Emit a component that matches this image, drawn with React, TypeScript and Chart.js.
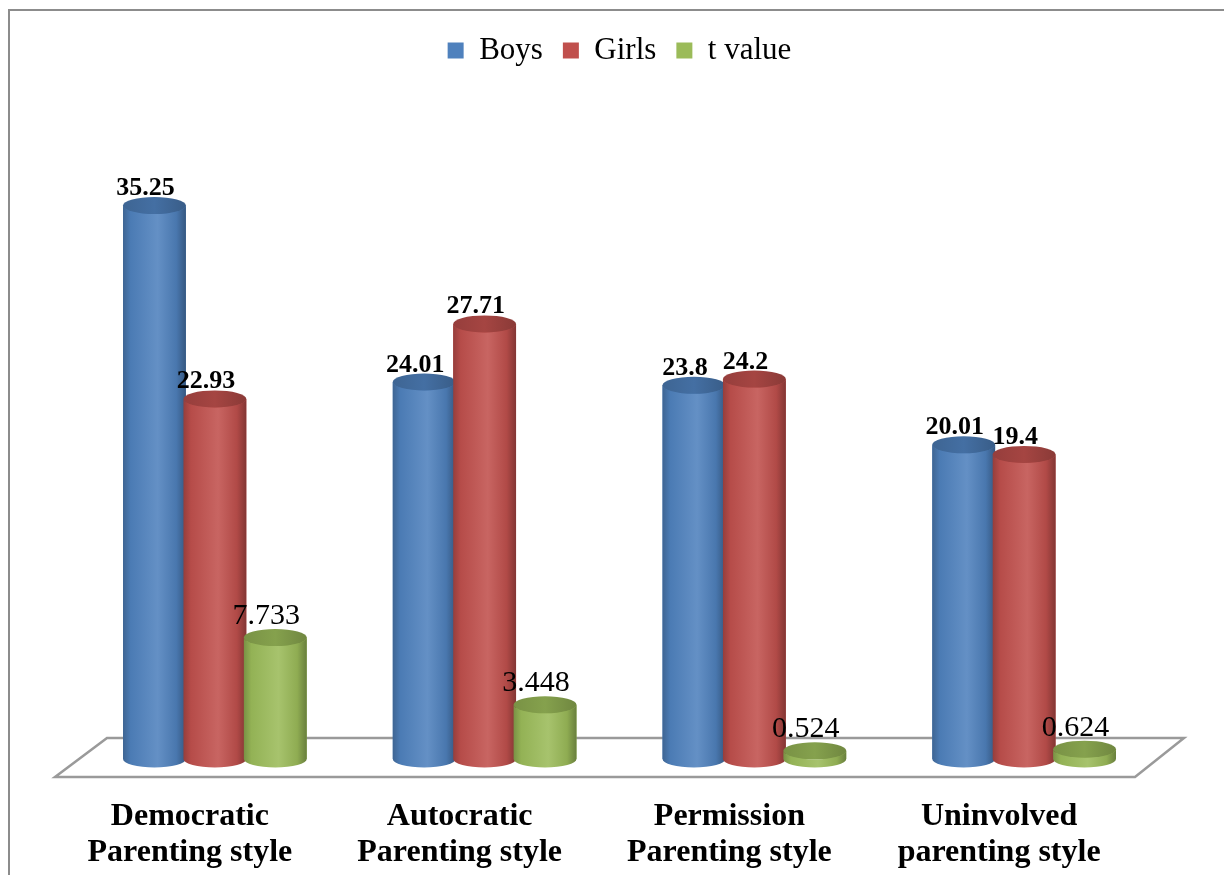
import React, { useEffect, useRef } from 'react';
import { Chart, registerables } from 'chart.js';

Chart.register(...registerables);

const categories: string[][] = [
  ['Democratic', 'Parenting style'],
  ['Autocratic', 'Parenting style'],
  ['Permission', 'Parenting style'],
  ['Uninvolved', 'parenting style'],
];
const seriesNames = ['Boys', 'Girls', 't value'];
const boys = [35.25, 24.01, 23.8, 20.01];
const girls = [22.93, 27.71, 24.2, 19.4];
const tValues = [7.733, 3.448, 0.524, 0.624];
const seriesColors = ['#4F81BD', '#C0504D', '#9BBB59'];
const labelBold = [true, true, false];

const FONT = '"Liberation Serif", "Times New Roman", Times, serif';
const Y_MAX = 43.5;

function shade(hex: string, f: number): string {
  const n = parseInt(hex.slice(1), 16);
  let r = (n >> 16) & 255, g = (n >> 8) & 255, b = n & 255;
  if (f >= 1) {
    const t = f - 1;
    r = r + (255 - r) * t; g = g + (255 - g) * t; b = b + (255 - b) * t;
  } else {
    r *= f; g *= f; b *= f;
  }
  return `rgb(${Math.round(r)},${Math.round(g)},${Math.round(b)})`;
}

const RY = 8.5;

const backgroundPlugin = {
  id: 'bgBorder',
  beforeDraw(chart: any) {
    const ctx = chart.ctx;
    ctx.save();
    ctx.fillStyle = '#ffffff';
    ctx.fillRect(0, 0, chart.width, chart.height);
    ctx.strokeStyle = '#8c8c8c';
    ctx.lineWidth = 2;
    ctx.beginPath();
    ctx.moveTo(1, chart.height + 5);
    ctx.lineTo(1, 2);
    ctx.lineTo(chart.width + 5, 2);
    ctx.stroke();
    ctx.restore();
  },
  beforeDatasetsDraw(chart: any) {
    const { ctx, chartArea } = chart;
    const { left, right, bottom } = chartArea;
    ctx.save();
    ctx.strokeStyle = '#9a9a9a';
    ctx.lineWidth = 2.5;
    ctx.beginPath();
    ctx.moveTo(left + 27, bottom - 21);
    ctx.lineTo(right + 25, bottom - 21);
    ctx.lineTo(right - 24, bottom + 18);
    ctx.lineTo(left - 25, bottom + 18);
    ctx.closePath();
    ctx.stroke();
    ctx.restore();
  },
};

const cylinderPlugin = {
  id: 'cylinders',
  afterDatasetsDraw(chart: any) {
    const ctx = chart.ctx;
    const nCat = categories.length;
    const nDs = chart.data.datasets.length;
    ctx.save();
    for (let i = 0; i < nCat; i++) {
      for (let d = 0; d < nDs; d++) {
        const meta = chart.getDatasetMeta(d);
        const el: any = meta.data[i];
        if (!el) continue;
        const { x, y, base, width } = el.getProps(['x', 'y', 'base', 'width'], true);
        const rx = width / 2;
        const col = seriesColors[d];
        const grad = ctx.createLinearGradient(x - rx, 0, x + rx, 0);
        grad.addColorStop(0, shade(col, 0.78));
        grad.addColorStop(0.12, shade(col, 0.95));
        grad.addColorStop(0.55, shade(col, 1.12));
        grad.addColorStop(0.85, shade(col, 0.92));
        grad.addColorStop(1, shade(col, 0.68));
        ctx.beginPath();
        ctx.moveTo(x - rx, y);
        ctx.lineTo(x - rx, base);
        ctx.ellipse(x, base, rx, RY, 0, Math.PI, 0, true);
        ctx.lineTo(x + rx, y);
        ctx.ellipse(x, y, rx, RY, 0, 0, Math.PI, false);
        ctx.closePath();
        ctx.fillStyle = grad;
        ctx.fill();
        const tg = ctx.createLinearGradient(x - rx, 0, x + rx, 0);
        tg.addColorStop(0, shade(col, 0.78));
        tg.addColorStop(0.5, shade(col, 0.86));
        tg.addColorStop(1, shade(col, 0.72));
        ctx.beginPath();
        ctx.ellipse(x, y, rx, RY, 0, 0, Math.PI * 2);
        ctx.fillStyle = tg;
        ctx.fill();
      }
    }
    // value labels
    ctx.fillStyle = '#000000';
    ctx.textAlign = 'center';
    ctx.textBaseline = 'alphabetic';
    for (let d = 0; d < nDs; d++) {
      const meta = chart.getDatasetMeta(d);
      const ds = chart.data.datasets[d];
      ctx.font = labelBold[d] ? `bold 26px ${FONT}` : `30px ${FONT}`;
      for (let i = 0; i < nCat; i++) {
        const el: any = meta.data[i];
        if (!el) continue;
        const { x, y } = el.getProps(['x', 'y'], true);
        const txt = String(ds.data[i]);
        const off = labelBold[d] ? 2 : 5;
        ctx.fillText(txt, x - 9, y - RY - off);
      }
    }
    ctx.restore();
  },
};

export default function App() {
  const ref = useRef<HTMLCanvasElement | null>(null);
  useEffect(() => {
    if (!ref.current) return;
    const chart = new Chart(ref.current, {
      type: 'bar',
      data: {
        labels: categories,
        datasets: [boys, girls, tValues].map((vals, k) => ({
          label: seriesNames[k],
          data: vals,
          backgroundColor: seriesColors[k],
          borderWidth: 0,
          categoryPercentage: 0.672,
          barPercentage: 1.04,
        })),
      },
      options: {
        animation: false,
        responsive: false,
        devicePixelRatio: 1,
        layout: { padding: { top: 7, left: 72, right: 65, bottom: 0 } },
        plugins: {
          legend: {
            position: 'top',
            align: 'center',
            labels: {
              color: '#000000',
              font: { family: FONT, size: 31 },
              boxWidth: 16,
              boxHeight: 16,
              padding: 20,
            },
          },
          tooltip: { enabled: false },
        },
        scales: {
          x: {
            grid: { display: false },
            border: { display: false },
            ticks: {
              color: '#000000',
              font: { family: FONT, size: 32, weight: 'bold', lineHeight: 1.125 },
              padding: 32,
              labelOffset: -25,
              maxRotation: 0,
              autoSkip: false,
            },
            afterFit: (scale: any) => {
              scale.height = 116;
            },
          },
          y: {
            display: false,
            min: 0,
            max: Y_MAX,
          },
        },
      },
      plugins: [backgroundPlugin, cylinderPlugin],
    } as any);
    return () => chart.destroy();
  }, []);
  return (
    <div style={{ width: 1216, height: 867 }}>
      <canvas ref={ref} width={1216} height={867} style={{ display: 'block' }} />
    </div>
  );
}
